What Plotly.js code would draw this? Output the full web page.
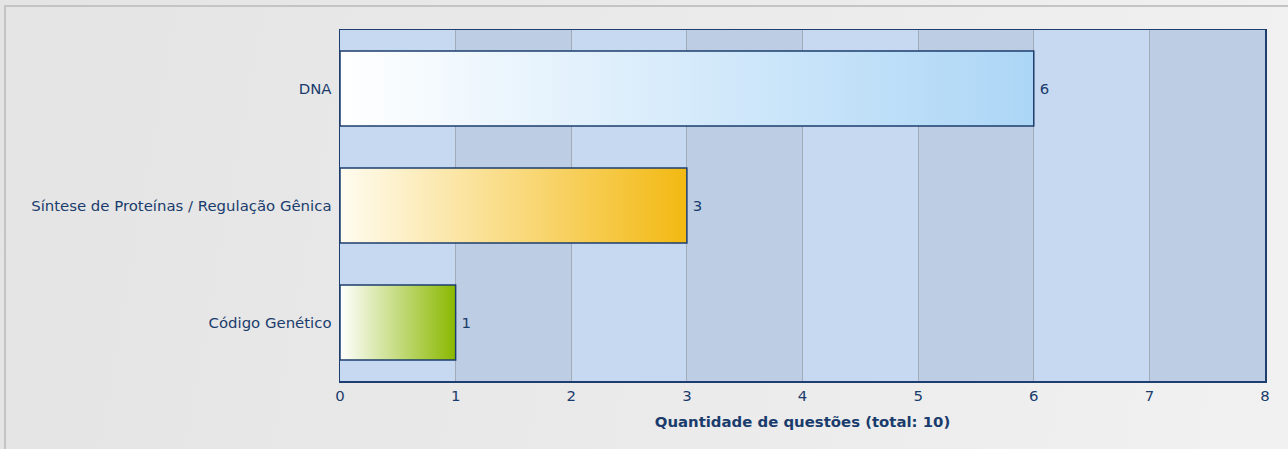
<!DOCTYPE html>
<html>
<head>
<meta charset="utf-8">
<script src="https://cdn.plot.ly/plotly-3.0.1.min.js"></script>
<style>
  html, body { margin:0; padding:0; width:1288px; height:449px; overflow:hidden;
    background: linear-gradient(100deg, #e4e4e4 0%, #eaeaea 50%, #f1f1f1 100%); }
  #frame { position:absolute; left:4px; top:5px; width:1300px; height:460px;
    border-left:2px solid #c4c4c4; border-top:2px solid #c4c4c4; box-sizing:border-box; }
  #chart { position:absolute; left:0; top:0; width:1288px; height:449px; }
</style>
</head>
<body>
<div id="frame"></div>
<div id="chart"></div>
<script>
const categories = ["DNA", "Síntese de Proteínas / Regulação Gênica", "Código Genético"];
const values = [6, 3, 1];
const gradStart = ["#ffffff", "#fffcf0", "#ffffff"];
const gradEnd = ["#acd6f6", "#f3b912", "#8ab800"];
const xTicks = [0, 1, 2, 3, 4, 5, 6, 7, 8];
const axisTitle = "Quantidade de questões (total: 10)";

const textColor = "#1a3c6c";
const fs = 14.9;
const shapes = [];
for (let i = 0; i < xTicks.length - 1; i++) {
  if (i % 2 === 1) {
    shapes.push({type:"rect", xref:"x", yref:"paper", x0:xTicks[i], x1:xTicks[i+1], y0:0, y1:1,
      fillcolor:"#bdcde3", line:{width:0}, layer:"below"});
  }
}

const trace = {
  type:"bar", orientation:"h",
  x: values, y: categories,
  text: values.map(String), texttemplate:"\u2009%{text}", textposition:"outside", cliponaxis:false,
  textfont:{family:"DejaVu Sans", size:fs, color:textColor},
  marker:{color: gradEnd, line:{color:"#1d3e6e", width:1.5}},
  width: 0.64,
  hoverinfo:"none"
};

const layout = {
  width:1288, height:449,
  margin:{l:340, r:23, t:30, b:68},
  paper_bgcolor:"rgba(0,0,0,0)",
  plot_bgcolor:"#c6d9f0",
  font:{family:"DejaVu Sans", size:fs, color:textColor},
  showlegend:false,
  shapes: shapes,
  xaxis:{
    range:[0, 8], tickvals:xTicks, ticktext:xTicks.map(String),
    showgrid:true, gridcolor:"#a3abb8", gridwidth:1,
    zeroline:false, showline:true, linecolor:"#1d3e6e", linewidth:1.5, mirror:true,
    ticks:"outside", ticklen:1, tickcolor:"rgba(0,0,0,0)",
    tickfont:{family:"DejaVu Sans", size:fs, color:textColor},
    title:{text:"<b>"+axisTitle+"</b>", standoff:12,
      font:{family:"DejaVu Sans", size:fs, color:textColor}}
  },
  yaxis:{
    autorange:"reversed", type:"category",
    showgrid:false, zeroline:false, showline:true, linecolor:"#1d3e6e", linewidth:1.5, mirror:true,
    ticks:"outside", ticklen:4, tickcolor:"rgba(0,0,0,0)",
    tickfont:{family:"DejaVu Sans", size:fs, color:textColor}
  }
};

Plotly.newPlot("chart", [trace], layout, {staticPlot:true, displayModeBar:false}).then(function(gd){
  const svg = gd.querySelector("svg.main-svg");
  const ns = "http://www.w3.org/2000/svg";
  let defs = svg.querySelector("defs");
  if (!defs) { defs = document.createElementNS(ns, "defs"); svg.insertBefore(defs, svg.firstChild); }
  categories.forEach(function(c, i){
    const g = document.createElementNS(ns, "linearGradient");
    g.setAttribute("id", "barGrad" + i);
    g.setAttribute("x1", "0"); g.setAttribute("y1", "0");
    g.setAttribute("x2", "1"); g.setAttribute("y2", "0");
    const s1 = document.createElementNS(ns, "stop");
    s1.setAttribute("offset", "0"); s1.setAttribute("stop-color", gradStart[i]);
    const s2 = document.createElementNS(ns, "stop");
    s2.setAttribute("offset", "1"); s2.setAttribute("stop-color", gradEnd[i]);
    g.appendChild(s1); g.appendChild(s2);
    defs.appendChild(g);
  });
  const paths = gd.querySelectorAll(".barlayer .point path");
  paths.forEach(function(p, i){ p.style.fill = "url(#barGrad" + i + ")"; });
});
</script>
</body>
</html>
